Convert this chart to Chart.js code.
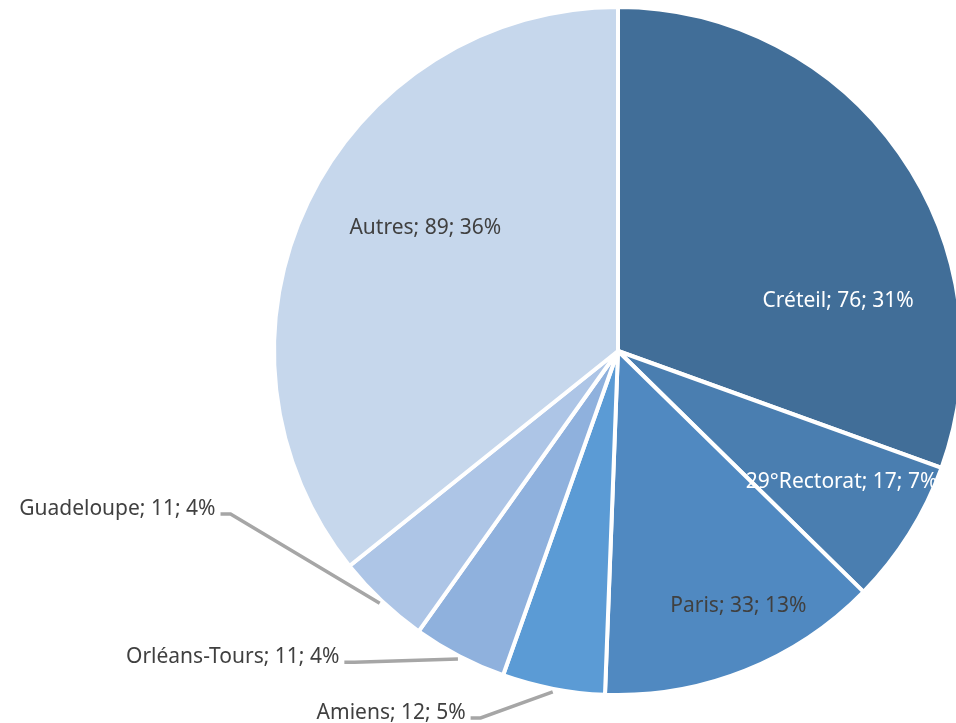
<!DOCTYPE html>
<html>
<head>
<meta charset="utf-8">
<script src="https://cdn.jsdelivr.net/npm/chart.js"></script>
<style>
  html, body { margin: 0; padding: 0; background: #fff; overflow: hidden; }
  #wrap { position: absolute; left: 0; top: 0; width: 1236px; height: 723px; }
</style>
</head>
<body>
<div id="wrap"><canvas id="pie"></canvas></div>
<script>
// données
const labels = ['Créteil', '29°Rectorat', 'Paris', 'Amiens', 'Orléans-Tours', 'Guadeloupe', 'Autres'];
const values = [76, 17, 33, 12, 11, 11, 89];
const colors = ['#416E98', '#4A7EB0', '#5089C1', '#5B9BD5', '#8FB1DD', '#ADC5E6', '#C6D7EC'];

// position des étiquettes (en fraction du rayon, depuis le centre)
const labelPos = [
    [0.64, -0.146], [0.65, 0.38], [0.35, 0.74], [-0.443, 1.052],
    [-0.81, 0.89], [-1.17, 0.459], [-0.56, -0.357]
];
const inside = [true, true, true, false, false, false, true];
const textColor = ['#ffffff', '#ffffff', '#404040', '#404040', '#404040', '#404040', '#404040'];

const total = values.reduce((a, b) => a + b, 0);

const labelPlugin = {
    id: 'pieLabels',
    afterDatasetsDraw(chart) {
        const ctx = chart.ctx;
        const arcs = chart.getDatasetMeta(0).data;
        ctx.save();
        ctx.font = '21px "Noto Sans"';
        ctx.textBaseline = 'middle';
        arcs.forEach((arc, i) => {
            const r = arc.outerRadius;
            const tx = arc.x + labelPos[i][0] * r;
            const ty = arc.y + labelPos[i][1] * r;
            const txt = labels[i] + '; ' + values[i] + '; ' + Math.round(values[i] / total * 100) + '%';
            ctx.fillStyle = textColor[i];
            if (inside[i]) {
                ctx.textAlign = 'center';
                ctx.fillText(txt, tx, ty);
            } else {
                ctx.textAlign = 'right';
                ctx.fillText(txt, tx, ty);
                const mid = (arc.startAngle + arc.endAngle) / 2;
                const ex = arc.x + Math.cos(mid) * (r + 3);
                const ey = arc.y + Math.sin(mid) * (r + 3);
                ctx.strokeStyle = '#A6A6A6';
                ctx.lineWidth = 3.5;
                ctx.beginPath();
                ctx.moveTo(tx + 5, ty + 5);
                ctx.lineTo(tx + 15, ty + 5);
                ctx.lineTo(ex, ey);
                ctx.stroke();
            }
        });
        ctx.restore();
    }
};

new Chart(document.getElementById('pie'), {
    type: 'pie',
    data: {
        labels: labels,
        datasets: [{
            data: values,
            backgroundColor: colors,
            borderColor: '#ffffff',
            borderWidth: 4
        }]
    },
    options: {
        responsive: true,
        maintainAspectRatio: false,
        animation: false,
        layout: { padding: { top: 5, bottom: 26 } },
        plugins: { legend: { display: false }, tooltip: { enabled: false } }
    },
    plugins: [labelPlugin]
});
</script>
</body>
</html>
